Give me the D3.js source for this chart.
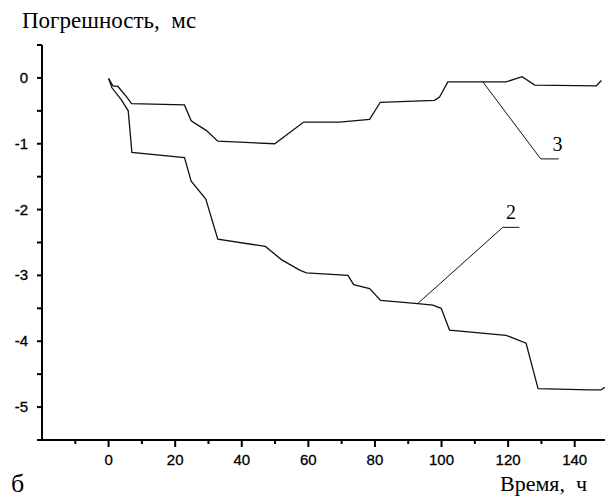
<!DOCTYPE html>
<html>
<head>
<meta charset="utf-8">
<script src="https://cdn.jsdelivr.net/npm/d3@7"></script>
<style>
  body { margin: 0; background: #fff; }
  svg { display: block; }
</style>
</head>
<body>
<div id="chart"></div>
<script>
// curve 3 (upper) and curve 2 (lower), hours vs error in ms
var hours3 = [0, 1.3, 2.8, 5.3, 6.9, 22.8, 24.8, 29.4, 32.8, 49.9, 58.6, 69.3, 78.4, 81.6, 97.9, 99.4, 101.9, 119.4, 124.2, 128.0, 146.5, 148.0];
var error3 = [-0.01, -0.12, -0.13, -0.28, -0.39, -0.41, -0.65, -0.80, -0.96, -1.0, -0.67, -0.67, -0.63, -0.37, -0.34, -0.29, -0.06, -0.06, 0.02, -0.11, -0.12, -0.04];

var hours2 = [0, 1.0, 3.8, 5.9, 7.0, 22.8, 24.8, 29.2, 32.8, 47.1, 51.9, 57.4, 59.4, 71.9, 73.6, 78.4, 81.7, 92.9, 97.4, 99.9, 102.4, 119.4, 125.4, 129.0, 144.4, 147.9, 149.0];
var error2 = [-0.01, -0.15, -0.33, -0.5, -1.13, -1.21, -1.57, -1.84, -2.45, -2.56, -2.76, -2.92, -2.96, -3.0, -3.14, -3.2, -3.38, -3.43, -3.45, -3.5, -3.83, -3.91, -4.03, -4.72, -4.74, -4.74, -4.70];

var xTicks = [0, 20, 40, 60, 80, 100, 120, 140];
var yTicks = [0, -1, -2, -3, -4, -5];

// callout labels: text, anchor on curve, elbow, end of shelf, label x (data units)
var calloutText = ["3", "2"];
var calloutAnchorX = [112.4, 92.8];
var calloutAnchorY = [-0.06, -3.43];
var calloutElbowX = [129.8, 118.4];
var calloutElbowY = [-1.23, -2.27];
var calloutEndX = [135.2, 123.4];
var calloutLabelX = [134.8, 120.9];

var width = 605, height = 497;
var svg = d3.select("#chart").append("svg")
    .attr("width", width)
    .attr("height", height);

var x = d3.scaleLinear().domain([-20, 150]).range([42, 608]);
var y = d3.scaleLinear().domain([-5.5, 0.5]).range([440, 45]);

var tickFont = "Arial, 'Liberation Sans', sans-serif";
var serif = "'Liberation Serif', 'Times New Roman', serif";

// x axis
var xAxis = svg.append("g").attr("transform", "translate(0," + y(-5.5) + ")");
xAxis.append("line")
    .attr("x1", x(-20)).attr("x2", width)
    .attr("stroke", "#000").attr("stroke-width", 2);
xAxis.selectAll(".minor").data(d3.range(-10, 150, 10))
  .enter().append("line")
    .attr("x1", function(d) { return x(d); })
    .attr("x2", function(d) { return x(d); })
    .attr("y1", 0).attr("y2", function(d) { return d % 20 === 0 ? 7 : 4; })
    .attr("stroke", "#000").attr("stroke-width", 2);
xAxis.selectAll(".lbl").data(xTicks)
  .enter().append("text")
    .attr("x", function(d) { return x(d); })
    .attr("y", 25)
    .attr("text-anchor", "middle")
    .style("font-family", tickFont)
    .style("font-size", "15px")
    .style("stroke", "#000").style("stroke-width", 0.3)
    .text(function(d) { return d; });

// y axis
var yAxis = svg.append("g").attr("transform", "translate(" + x(-20) + ",0)");
yAxis.append("line")
    .attr("y1", y(0.5)).attr("y2", y(-5.5))
    .attr("stroke", "#000").attr("stroke-width", 2);
yAxis.selectAll(".minor").data(d3.range(-5.5, 0.51, 0.5))
  .enter().append("line")
    .attr("y1", function(d) { return y(d); })
    .attr("y2", function(d) { return y(d); })
    .attr("x1", -5).attr("x2", 0)
    .attr("stroke", "#000").attr("stroke-width", 2);
yAxis.selectAll(".lbl").data(yTicks)
  .enter().append("text")
    .attr("x", -14)
    .attr("y", function(d) { return y(d) + 5; })
    .attr("text-anchor", "end")
    .style("font-family", tickFont)
    .style("font-size", "15px")
    .style("stroke", "#000").style("stroke-width", 0.3)
    .text(function(d) { return d; });

// curves
var line = d3.line()
    .x(function(d) { return x(d[0]); })
    .y(function(d) { return y(d[1]); });

[d3.zip(hours3, error3), d3.zip(hours2, error2)].forEach(function(pts) {
    svg.append("path")
        .attr("d", line(pts))
        .attr("fill", "none")
        .attr("stroke", "#111")
        .attr("stroke-width", 1.3);
});

// callouts
calloutText.forEach(function(t, i) {
    var pts = [[calloutAnchorX[i], calloutAnchorY[i]],
               [calloutElbowX[i], calloutElbowY[i]],
               [calloutEndX[i], calloutElbowY[i]]];
    svg.append("path")
        .attr("d", line(pts))
        .attr("fill", "none")
        .attr("stroke", "#111")
        .attr("stroke-width", 1);
    svg.append("text")
        .attr("x", x(calloutLabelX[i]))
        .attr("y", y(calloutElbowY[i]) - 8)
        .attr("text-anchor", "middle")
        .style("font-family", serif)
        .style("font-size", "20px")
        .text(t);
});

// titles
svg.append("text")
    .attr("x", 22).attr("y", 28)
    .style("font-family", serif)
    .style("font-size", "23px")
    .style("white-space", "pre")
    .text("Погрешность,  мс");

svg.append("text")
    .attr("x", 587).attr("y", 491)
    .attr("text-anchor", "end")
    .style("font-family", serif)
    .style("font-size", "22px")
    .style("white-space", "pre")
    .text("Время,  ч");

svg.append("text")
    .attr("x", 11).attr("y", 492)
    .style("font-family", serif)
    .style("font-size", "26px")
    .text("б");
</script>
</body>
</html>
